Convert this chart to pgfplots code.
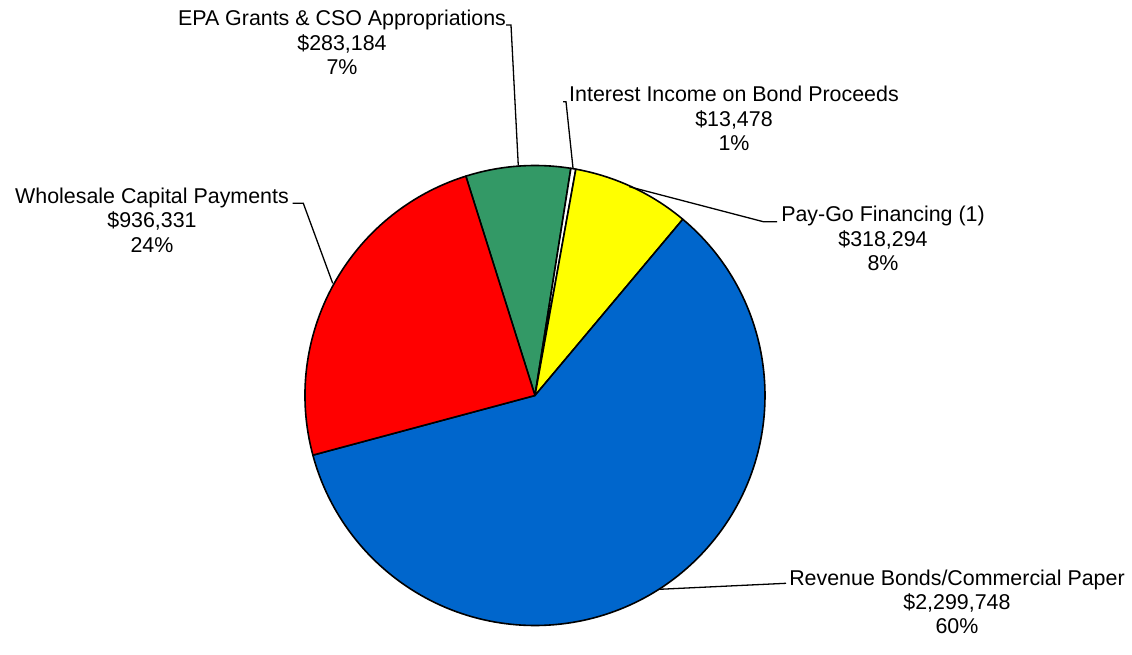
\documentclass[border=0pt]{standalone}
\usepackage{fontspec}
\setmainfont{Liberation Sans}
\usepackage{pgfplots}
\pgfplotsset{compat=1.18}

\definecolor{revblue}{RGB}{0,102,204}
\definecolor{wsred}{RGB}{255,0,0}
\definecolor{epagreen}{RGB}{51,153,102}
\definecolor{pgyellow}{RGB}{255,255,0}

\begin{document}
\begin{tikzpicture}
% values in thousands of dollars
\pgfmathsetmacro\vRev{2299.748}
\pgfmathsetmacro\vWho{936.331}
\pgfmathsetmacro\vEPA{283.184}
\pgfmathsetmacro\vInt{13.478}
\pgfmathsetmacro\vPay{318.294}
\pgfmathsetmacro\tot{\vRev+\vWho+\vEPA+\vInt+\vPay}
% slices go clockwise from the EPA slice
\pgfmathsetmacro\aA{107.5}
\pgfmathsetmacro\aB{\aA-360*(\vEPA/\tot)}
\pgfmathsetmacro\aC{\aB-360*(\vInt/\tot)}
\pgfmathsetmacro\aD{\aC-360*(\vPay/\tot)}
\pgfmathsetmacro\aE{\aD-360*(\vRev/\tot)}
\pgfmathsetmacro\aF{\aE-360*(\vWho/\tot)}
\def\cx{535}
\def\cy{395.5}
\def\R{230}
\newcommand{\slice}[3]{%
  \filldraw[fill=#3, draw=black, line width=0.8pt, line join=round]
    (axis cs:\cx,\cy) -- (axis cs:{\cx+\R*cos(#1)},{\cy-\R*sin(#1)})
    arc[start angle=#1, end angle=#2, radius=115pt] -- cycle;}
\tikzset{lbltext/.style={anchor=base, inner sep=0pt, font=\fontsize{10.7}{12.5}\selectfont}}
\newcommand{\lbl}[5]{%
  \node[lbltext] at (axis cs:#1,#2) {#3};
  \node[lbltext] at (axis cs:#1,{#2+24.4}) {#4};
  \node[lbltext] at (axis cs:#1,{#2+48.8}) {#5};}
\begin{axis}[
  x=0.5pt, y=0.5pt,
  xmin=0, xmax=1132, ymin=0, ymax=639,
  y dir=reverse,
  scale only axis,
  hide axis,
  clip=false,
]
\path (axis cs:0,0) rectangle (axis cs:1132,639);

\slice{\aA}{\aB}{epagreen}
\slice{\aB}{\aC}{white}
\slice{\aC}{\aD}{pgyellow}
\slice{\aD}{\aE}{revblue}
\slice{\aE}{\aF}{wsred}

% leader lines
\draw[line width=0.65pt] (axis cs:506,25) -- (axis cs:511,25) -- (axis cs:518.3,165.7);
\draw[line width=0.65pt] (axis cs:563,101.7) -- (axis cs:566,101.7) -- (axis cs:573,168);
\draw[line width=0.65pt] (axis cs:629.3,186.7) -- (axis cs:763.3,221.7) -- (axis cs:777,221.7);
\draw[line width=0.65pt] (axis cs:292.7,203.3) -- (axis cs:303.3,203.3) -- (axis cs:332.7,283.3);
\draw[line width=0.65pt] (axis cs:659.3,589.3) -- (axis cs:786,583.3);

% labels
\lbl{342}{26}{EPA Grants \& CSO Appropriations}{\$283,184}{7\%}
\lbl{734}{101.7}{Interest Income on Bond Proceeds}{\$13,478}{1\%}
\lbl{883}{221.7}{Pay-Go Financing (1)}{\$318,294}{8\%}
\lbl{152}{203.3}{Wholesale Capital Payments}{\$936,331}{24\%}
\lbl{957}{585}{Revenue Bonds/Commercial Paper}{\$2,299,748}{60\%}
\end{axis}
\end{tikzpicture}
\end{document}
